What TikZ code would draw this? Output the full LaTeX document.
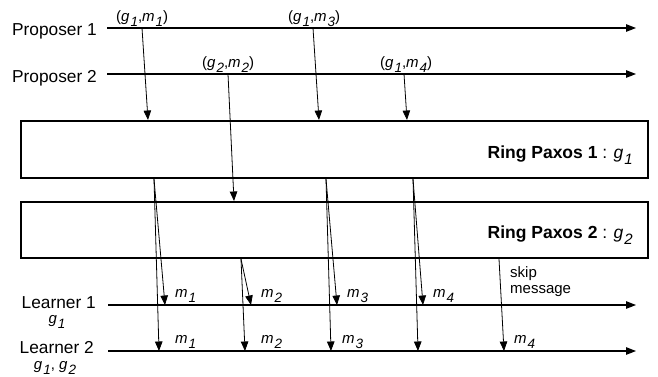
\documentclass[tikz,border=0pt]{standalone}
\usepackage{fontspec}
\setmainfont{Liberation Sans}
\usetikzlibrary{arrows.meta}
\newcommand\isub[2]{\textit{#1}\raisebox{-0.35em}{\fontsize{13.5}{13.5}\selectfont\textit{\kern1pt#2}}}
\newcommand\bsub[2]{\textit{#1}\raisebox{-0.35em}{\fontsize{15}{15}\selectfont\textit{\kern1pt#2}}}
\begin{document}
\begin{tikzpicture}[x=1pt,y=-1pt,
  tl/.style={line width=1.2pt,-{Triangle[length=10pt,width=7.5pt]}},
  msg/.style={line width=0.8pt,-{Triangle[length=9.5pt,width=7.5pt]}},
  ringbox/.style={draw,line width=2pt,minimum width=627pt,inner sep=0pt},
  lbl/.style={font=\fontsize{17.3}{17}\selectfont,inner sep=0pt},
  pair/.style={font=\fontsize{15}{15}\selectfont,inner sep=0pt},
  skiplbl/.style={font=\fontsize{15}{16}\selectfont,inner sep=0pt,align=left},
]
\useasboundingbox (0,0) rectangle (658,376);
% timelines
\coordinate (p1s) at (107,28); \coordinate (p1e) at (636,28);
\coordinate (p2s) at (107,74); \coordinate (p2e) at (636,74);
\coordinate (l1s) at (108,305); \coordinate (l1e) at (636,305);
\coordinate (l2s) at (108,351); \coordinate (l2e) at (636,351);
\draw[tl] (p1s) -- (p1e);
\draw[tl] (p2s) -- (p2e);
\draw[tl] (l1s) -- (l1e);
\draw[tl] (l2s) -- (l2e);
% labels
\node[lbl,anchor=base east] (lp1) at (97,35) {Proposer 1};
\node[lbl,anchor=base east] (lp2) at (97,82) {Proposer 2};
\node[lbl,anchor=base east] (ll1) at (96,308) {Learner 1};
\node[pair,anchor=base] (ll1g) at (57,323) {\isub{g}{1}};
\node[lbl,anchor=base east] (ll2) at (94,353) {Learner 2};
\node[pair,anchor=base] (ll2g) at (55,369) {\isub{g}{1}, \isub{g}{2}};
% ring boxes
\node[ringbox,minimum height=57pt] (rp1) at (334.5,149.5) {};
\node[ringbox,minimum height=56pt] (rp2) at (334.5,230) {};
\node[inner sep=0pt,anchor=base east,font=\fontsize{17.5}{17}\selectfont] (rp1t) at (633,158) {\textbf{Ring Paxos 1} : \bsub{g}{1}};
\node[inner sep=0pt,anchor=base east,font=\fontsize{17.5}{17}\selectfont] (rp2t) at (633,238) {\textbf{Ring Paxos 2} : \bsub{g}{2}};
% proposals
\coordinate (a1) at (142,28); \coordinate (a3) at (313,28);
\coordinate (a2) at (228,74); \coordinate (a4) at (404,74);
\draw[msg] (a1) -- (148,0 |- rp1.north);
\draw[msg] (a3) -- (319,0 |- rp1.north);
\draw[msg] (a2) -- (234,0 |- rp2.north);
\draw[msg] (a4) -- (407,0 |- rp1.north);
\node[pair,anchor=base west] (t1) at (116,21) {(\isub{g}{1},\isub{m}{1})};
\node[pair,anchor=base west] (t3) at (288,21) {(\isub{g}{1},\isub{m}{3})};
\node[pair,anchor=base west] (t2) at (202,67) {(\isub{g}{2},\isub{m}{2})};
\node[pair,anchor=base west] (t4) at (380,67) {(\isub{g}{1},\isub{m}{4})};
% deliveries
\coordinate (d1) at (154,0 |- rp1.south);
\coordinate (d3) at (326,0 |- rp1.south);
\coordinate (d4) at (413,0 |- rp1.south);
\coordinate (d2) at (241,0 |- rp2.south);
\coordinate (ds) at (499,0 |- rp2.south);
\draw[msg] (d1) -- (165,0 |- l1s);
\draw[msg] (d1) -- (159,0 |- l2s);
\draw[msg] (d3) -- (337,0 |- l1s);
\draw[msg] (d3) -- (331,0 |- l2s);
\draw[msg] (d4) -- (423,0 |- l1s);
\draw[msg] (d4) -- (418,0 |- l2s);
\draw[msg] (d2) -- (251,0 |- l1s);
\draw[msg] (d2) -- (245,0 |- l2s);
\draw[msg] (ds) -- (504,0 |- l2s);
\node[pair,anchor=base west] (m11) at (175,297) {\isub{m}{1}};
\node[pair,anchor=base west] (m12) at (261,297) {\isub{m}{2}};
\node[pair,anchor=base west] (m13) at (347,297) {\isub{m}{3}};
\node[pair,anchor=base west] (m14) at (433,297) {\isub{m}{4}};
\node[pair,anchor=base west] (m21) at (175,343) {\isub{m}{1}};
\node[pair,anchor=base west] (m22) at (261,343) {\isub{m}{2}};
\node[pair,anchor=base west] (m23) at (342,343) {\isub{m}{3}};
\node[pair,anchor=base west] (m24) at (514,343) {\isub{m}{4}};
\node[skiplbl,anchor=north west] (skip) at (510,266) {skip\\message};
\end{tikzpicture}
\end{document}
